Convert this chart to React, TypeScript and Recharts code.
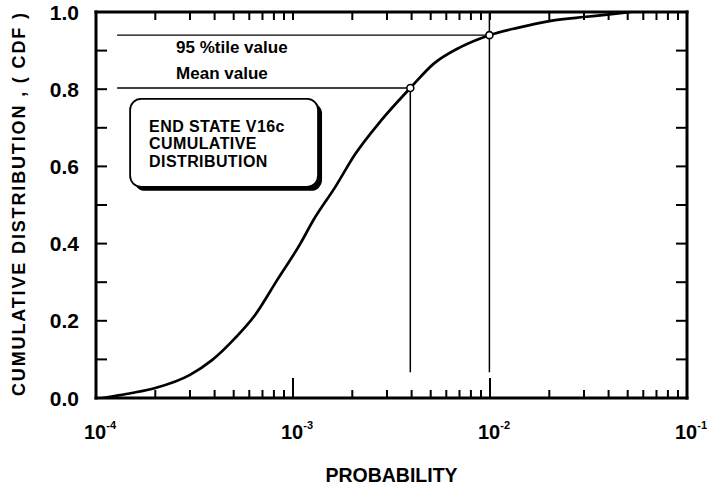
import React from 'react';
import {
  ComposedChart,
  Line,
  Scatter,
  XAxis,
  YAxis,
  ReferenceLine,
  ReferenceArea,
  ReferenceDot,
} from 'recharts';

// ---- data ----
const probability = [
  1.08e-4, 1.2e-4, 1.52e-4, 2.0e-4, 3.0e-4, 3.88e-4, 5.08e-4, 6.42e-4, 8.32e-4,
  1.09e-3, 1.27e-3, 1.64e-3, 2.07e-3, 2.77e-3, 3.94e-3, 5.15e-3, 7.08e-3, 9.93e-3,
  1.38e-2, 2.03e-2, 2.99e-2, 3.94e-2, 5.2e-2,
];
const cdfValues = [
  0.0, 0.004, 0.013, 0.026, 0.06, 0.098, 0.155, 0.215, 0.306,
  0.4, 0.461, 0.547, 0.632, 0.716, 0.803, 0.865, 0.909, 0.94,
  0.959, 0.977, 0.987, 0.993, 1.0,
];

const markerNames = ['Mean value', '95 %tile value'];
const markerProbability = [3.94e-3, 9.93e-3];
const markerCdf = [0.803, 0.94];
const markerTop = [0.803, 1.0];
const guideStartProbability = 1.28e-4;
const guideBottomCdf = 0.067;

const annotationProbability = 2.55e-4;
const annotationCdf = [0.826, 0.894];

const boxLines = ['END STATE V16c', 'CUMULATIVE', 'DISTRIBUTION'];
const boxProbability = [1.49e-4, 1.34e-3];
const boxCdf = [0.547, 0.775];

const xTicks = [
  1e-4, 2e-4, 3e-4, 4e-4, 5e-4, 6e-4, 7e-4, 8e-4, 9e-4,
  1e-3, 2e-3, 3e-3, 4e-3, 5e-3, 6e-3, 7e-3, 8e-3, 9e-3,
  1e-2, 2e-2, 3e-2, 4e-2, 5e-2, 6e-2, 7e-2, 8e-2, 9e-2,
  1e-1,
];
const xInnerTicks = xTicks.slice(1, -1);
const yTicks = [0, 0.1, 0.2, 0.3, 0.4, 0.5, 0.6, 0.7, 0.8, 0.9, 1.0];
const yInnerTicks = yTicks.slice(1, -1);
const yTickLabels = ['0.0', '', '0.2', '', '0.4', '', '0.6', '', '0.8', '', '1.0'];

const xTitle = 'PROBABILITY';
const yTitle = 'CUMULATIVE DISTRIBUTION , ( CDF )';

const curveData = probability.map((p, i) => ({ p, cdf: cdfValues[i] }));
const markerData = markerProbability.map((p, i) => ({ p, cdf: markerCdf[i], name: markerNames[i] }));

// ---- layout ----
const CHART_W = 707;
const CHART_H = 486;
const TOP_AXIS_H = 12;
const BOTTOM_AXIS_H = 88;
const LEFT_AXIS_W = 96;
const RIGHT_AXIS_W = 20;
// inner frame tick lengths along the axes (cdf units / log-decade factor)
const TOP_TICK_CDF = 8 / 386;
const RIGHT_TICK_FACTOR = Math.pow(10, 11 / 196.8);

const FONT = '"Liberation Sans", Arial, Helvetica, sans-serif';

const isDecade = (v: number) => {
  const l = Math.log10(v);
  return Math.abs(l - Math.round(l)) < 1e-6;
};
const isXEdge = (v: number) => v <= 1e-4 * 1.0001 || v >= 1e-1 * 0.9999;
const isYEdge = (v: number) => v <= 0.0001 || v >= 0.9999;

const BottomTick = (props: any) => {
  const { x, y, payload } = props;
  const v = payload.value;
  const decade = isDecade(v);
  const len = decade ? 20 : 8;
  const edge = isXEdge(v);
  return (
    <g>
      {!edge && <line x1={x} x2={x} y1={y} y2={y - len} stroke="#000" strokeWidth={2} />}
      {decade && (
        <text x={x - 12} y={y + 41} fontFamily={FONT} fontWeight="bold" fontSize={20} fill="#000" textAnchor="start">
          <tspan>10</tspan>
          <tspan dy={-10} fontSize={11}>{String(Math.round(Math.log10(v)))}</tspan>
        </text>
      )}
    </g>
  );
};

const LeftTick = (props: any) => {
  const { x, y, payload } = props;
  const v = payload.value;
  const label = yTickLabels[yTicks.findIndex((t) => Math.abs(t - v) < 1e-9)] ?? '';
  const edge = isYEdge(v);
  return (
    <g>
      {!edge && <line x1={x} x2={x + 11} y1={y} y2={y} stroke="#000" strokeWidth={2} />}
      {label && (
        <text x={x - 17} y={y + 7.5} fontFamily={FONT} fontWeight="bold" fontSize={21} fill="#000" textAnchor="end">
          {label}
        </text>
      )}
    </g>
  );
};

const XTitle = (props: any) => {
  const vb = props.viewBox || {};
  return (
    <text x={vb.x + vb.width / 2} y={vb.y + 84} fontFamily={FONT} fontWeight="bold" fontSize={19.5} fill="#000" textAnchor="middle">
      {xTitle}
    </text>
  );
};

const YTitle = (props: any) => {
  const vb = props.viewBox || {};
  const cx = vb.x + 25;
  const cy = vb.y + vb.height / 2 - 0.5;
  return (
    <text
      x={cx}
      y={cy}
      transform={`rotate(-90 ${cx} ${cy})`}
      fontFamily={FONT}
      fontWeight="bold"
      fontSize={18}
      fill="#000"
      textAnchor="middle"
      textLength={383}
      lengthAdjust="spacing"
    >
      {yTitle}
    </text>
  );
};

const MarkerShape = (props: any) => {
  const { cx, cy } = props;
  return <circle cx={cx} cy={cy} r={3.5} fill="#fff" stroke="#000" strokeWidth={1.6} />;
};

const BoxShape = (props: any) => {
  const { x, y, width, height } = props;
  return (
    <g>
      <rect x={x + 4} y={y + 4} width={width} height={height} rx={11} ry={11} fill="#000" />
      <rect x={x} y={y} width={width} height={height} rx={11} ry={11} fill="#fff" stroke="#000" strokeWidth={1.8} />
      {boxLines.map((t, i) => (
        <text
          key={i}
          x={x + 19}
          y={y + 33 + i * 17.5}
          fontFamily={FONT}
          fontWeight="bold"
          fontSize={16}
          letterSpacing={0.4}
          fill="#000"
        >
          {t}
        </text>
      ))}
    </g>
  );
};

const makeTextShape = (label: string) => (props: any) => (
  <text x={props.cx} y={props.cy} fontFamily={FONT} fontWeight="bold" fontSize={17} fill="#000" textAnchor="start">
    {label}
  </text>
);

export default function App() {
  const axisLine = { stroke: '#000', strokeWidth: 3, strokeLinecap: 'square' as const };
  return (
    <div style={{ position: 'absolute', left: 0, top: 0, width: CHART_W, height: CHART_H, background: '#fff' }}>
      <ComposedChart width={CHART_W} height={CHART_H} data={curveData} margin={{ top: 0, right: 0, bottom: 0, left: 0 }}>
        <XAxis
          dataKey="p"
          type="number"
          scale="log"
          domain={[1e-4, 1e-1]}
          allowDataOverflow
          ticks={xTicks}
          interval={0}
          tickSize={0}
          tickMargin={0}
          height={BOTTOM_AXIS_H}
          axisLine={axisLine}
          tickLine={false}
          tick={<BottomTick />}
          label={<XTitle />}
        />
        <XAxis
          xAxisId="top"
          dataKey="p"
          orientation="top"
          type="number"
          scale="log"
          domain={[1e-4, 1e-1]}
          allowDataOverflow
          height={TOP_AXIS_H}
          axisLine={axisLine}
          tickLine={false}
          tick={false}
        />
        <YAxis
          type="number"
          domain={[0, 1]}
          allowDataOverflow
          ticks={yTicks}
          interval={0}
          tickSize={0}
          tickMargin={0}
          width={LEFT_AXIS_W}
          axisLine={axisLine}
          tickLine={false}
          tick={<LeftTick />}
          label={<YTitle />}
        />
        <YAxis
          yAxisId="right"
          orientation="right"
          type="number"
          domain={[0, 1]}
          allowDataOverflow
          width={RIGHT_AXIS_W}
          axisLine={axisLine}
          tickLine={false}
          tick={false}
        />

        {/* inner ticks on the top frame */}
        {xInnerTicks.map((t) => (
          <ReferenceLine
            key={`tt${t}`}
            segment={[
              { x: t, y: 1 },
              { x: t, y: 1 - TOP_TICK_CDF },
            ]}
            stroke="#000"
            strokeWidth={2}
          />
        ))}
        {/* inner ticks on the right frame */}
        {yInnerTicks.map((t) => (
          <ReferenceLine
            key={`rt${t}`}
            segment={[
              { x: 1e-1, y: t },
              { x: 1e-1 / RIGHT_TICK_FACTOR, y: t },
            ]}
            stroke="#000"
            strokeWidth={2}
          />
        ))}

        {markerProbability.map((p, i) => (
          <ReferenceLine
            key={`h${i}`}
            segment={[
              { x: guideStartProbability, y: markerCdf[i] },
              { x: p, y: markerCdf[i] },
            ]}
            stroke="#000"
            strokeWidth={1.4}
          />
        ))}
        {markerProbability.map((p, i) => (
          <ReferenceLine
            key={`v${i}`}
            segment={[
              { x: p, y: guideBottomCdf },
              { x: p, y: markerTop[i] },
            ]}
            stroke="#000"
            strokeWidth={1.5}
          />
        ))}

        <ReferenceArea
          x1={boxProbability[0]}
          x2={boxProbability[1]}
          y1={boxCdf[0]}
          y2={boxCdf[1]}
          shape={<BoxShape />}
        />

        {markerNames.map((name, i) => (
          <ReferenceDot
            key={`t${i}`}
            x={annotationProbability}
            y={annotationCdf[i]}
            r={0}
            shape={makeTextShape(name)}
          />
        ))}

        <Line
          dataKey="cdf"
          type="monotone"
          stroke="#000"
          strokeWidth={2.7}
          dot={false}
          activeDot={false}
          isAnimationActive={false}
        />
        <Scatter data={markerData} dataKey="cdf" shape={<MarkerShape />} isAnimationActive={false} />
      </ComposedChart>
    </div>
  );
}
